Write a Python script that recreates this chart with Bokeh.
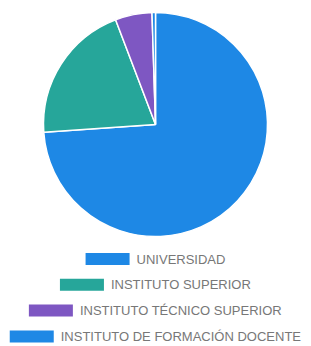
import math
from bokeh.plotting import figure
from bokeh.models import Range1d, ColumnDataSource
from bokeh.embed import file_html
from bokeh.resources import INLINE
from bokeh.core.properties import value

categories = ["UNIVERSIDAD", "INSTITUTO SUPERIOR", "INSTITUTO TÉCNICO SUPERIOR",
              "INSTITUTO DE FORMACIÓN DOCENTE"]
values = [73.9, 20.3, 5.3, 0.5]
colors = ["#1E88E5", "#26A69A", "#7E57C2", "#1E88E5"]

W, H = 311, 346
p = figure(width=W, height=H, output_backend="svg", toolbar_location=None,
           x_range=Range1d(0, W), y_range=Range1d(0, H), min_border=0,
           x_axis_location=None, y_axis_location=None)
p.grid.visible = False
p.outline_line_color = None
p.background_fill_color = "white"
p.border_fill_color = "white"

# pie
total = sum(values)
cum = [0.0]
for v in values:
    cum.append(cum[-1] + v / total)
starts = [math.pi / 2 - 2 * math.pi * c for c in cum[:-1]]
ends = [math.pi / 2 - 2 * math.pi * c for c in cum[1:]]
cx, cy, r = 155, H - 124, 112
src = ColumnDataSource(dict(start=starts, end=ends, color=colors, cat=categories))
p.wedge(x=cx, y=cy, radius=r, start_angle="start", end_angle="end", direction="clock",
        fill_color="color", line_color="white", line_width=1.5, source=src)

# legend (manual, centered rows)
AW = {'A': 667, 'B': 667, 'C': 722, 'D': 722, 'E': 667, 'F': 611, 'G': 778, 'H': 722,
      'I': 278, 'J': 500, 'K': 667, 'L': 556, 'M': 833, 'N': 722, 'O': 778, 'P': 667,
      'Q': 778, 'R': 722, 'S': 667, 'T': 611, 'U': 722, 'V': 667, 'W': 944, 'X': 667,
      'Y': 667, 'Z': 611, ' ': 278, 'É': 667, 'Ó': 778}
fs = 13
box_w, box_h, gap = 44, 12, 7
row0, step = H - 258.5, 25.8
box_x, text_x, ys = [], [], []
for i, c in enumerate(categories):
    tw = sum(AW.get(ch, 667) for ch in c) / 1000 * fs
    total_w = box_w + gap + tw
    left = cx - total_w / 2
    box_x.append(left + box_w / 2)
    text_x.append(left + box_w + gap)
    ys.append(row0 - i * step)
lsrc = ColumnDataSource(dict(bx=box_x, tx=text_x, y=ys, color=colors, cat=categories))
p.rect(x="bx", y="y", width=box_w, height=box_h, fill_color="color", line_color=None, source=lsrc)
p.text(x="tx", y="y", text="cat", text_font=value("Liberation Sans"), text_font_size=f"{fs}px",
       text_color="#777777", text_baseline="middle", text_align="left", source=lsrc)

open("out.html", "w").write(file_html(p, INLINE))
